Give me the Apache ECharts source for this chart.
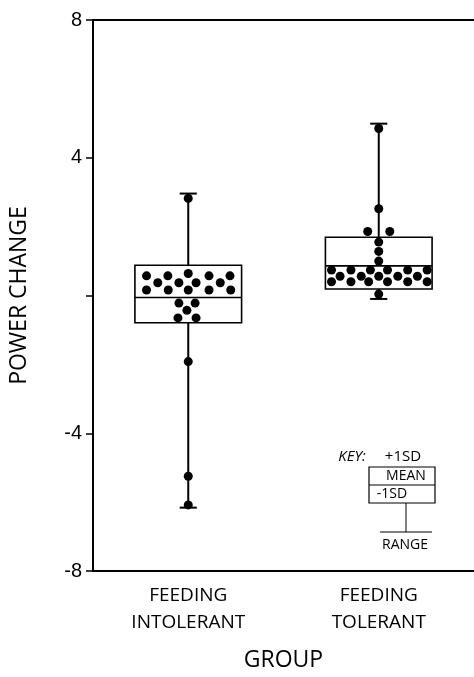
<!DOCTYPE html>
<html>
<head>
<meta charset="utf-8">
<script src="https://cdn.jsdelivr.net/npm/echarts@6/dist/echarts.min.js"></script>
<style>
html,body{margin:0;padding:0;background:#fff;}
#chart{width:474px;height:677px;}
</style>
</head>
<body>
<div id="chart"></div>
<script>
// ---- data ----
const categories = ['FEEDING\nINTOLERANT', 'FEEDING\nTOLERANT'];
const yTicks = [-8, -4, 0, 4, 8];
const rangeLow  = [-6.16, -0.10];
const sdLow     = [-0.79, 0.19];
const means     = [-0.06, 0.86];
const sdHigh    = [0.88, 1.69];
const rangeHigh = [2.96, 4.99];

// individual subjects: value and horizontal jitter (fraction of category width)
const intolerantValues = [2.82,
  0.57, 0.57, 0.64, 0.57, 0.57,
  0.37, 0.37, 0.37, 0.37,
  0.16, 0.16, 0.16, 0.16, 0.16,
  -0.22, -0.22, -0.43, -0.65, -0.65,
  -1.92, -5.25, -6.08];
const intolerantJitter = [0,
  -0.219, -0.107, 0, 0.109, 0.219,
  -0.160, -0.049, 0.041, 0.168,
  -0.219, -0.105, 0, 0.109, 0.223,
  -0.049, 0.036, -0.007, -0.054, 0.041,
  0, 0, 0];
const tolerantValues = [4.85, 2.52, 1.86, 1.86, 1.55, 1.28, 1.00,
  0.74, 0.74, 0.74, 0.74, 0.74, 0.74,
  0.56, 0.56, 0.56, 0.56, 0.56,
  0.40, 0.40, 0.40, 0.40, 0.40, 0.40,
  0.04];
const tolerantJitter = [0, 0, -0.058, 0.058, 0, 0, 0,
  -0.248, -0.146, -0.044, 0.046, 0.152, 0.254,
  -0.203, -0.092, 0, 0.100, 0.203,
  -0.248, -0.146, -0.053, 0.046, 0.152, 0.254,
  0];

// ---- build ----
const boxData = categories.map((c, i) => [i, rangeLow[i], sdLow[i], means[i], sdHigh[i], rangeHigh[i]]);
const dots = [];
intolerantValues.forEach((v, i) => dots.push([0.5 + intolerantJitter[i], v]));
tolerantValues.forEach((v, i) => dots.push([1.5 + tolerantJitter[i], v]));

const chart = echarts.init(document.getElementById('chart'), null, {renderer: 'canvas'});
const tickFont = 'Liberation Sans';
const textFont = 'Open Sans';

function keyText(txt, x, y, size, italic) {
  return {type: 'text', x: x, y: y,
    style: {text: txt, font: (italic ? 'italic ' : '') + size + 'px "Open Sans"', fill: '#000',
      textAlign: 'center', textVerticalAlign: 'middle'}};
}

chart.setOption({
  animation: false,
  backgroundColor: '#fff',
  grid: {left: 84, right: -2, top: 20, bottom: 99, containLabel: false},
  xAxis: [{
    type: 'category',
    data: categories,
    position: 'bottom',
    axisLine: {onZero: false, lineStyle: {color: '#000', width: 2}},
    axisTick: {show: false},
    axisLabel: {color: '#000', fontFamily: textFont, fontSize: 19, lineHeight: 27, margin: 11},
    name: 'GROUP',
    nameLocation: 'middle',
    nameGap: 78,
    nameTextStyle: {color: '#000', fontFamily: textFont, fontSize: 23}
  }, {
    type: 'value',
    min: 0, max: 2,
    position: 'top',
    axisLine: {show: true, onZero: false, lineStyle: {color: '#000', width: 2}},
    axisTick: {show: false},
    axisLabel: {show: false},
    splitLine: {show: false}
  }],
  yAxis: {
    type: 'value',
    min: yTicks[0], max: yTicks[yTicks.length - 1], interval: 4,
    axisLine: {show: true, onZero: false, lineStyle: {color: '#000', width: 2}},
    axisTick: {show: true, length: 7, lineStyle: {color: '#000', width: 1.5}},
    splitLine: {show: false},
    axisLabel: {color: '#000', fontFamily: tickFont, fontSize: 20, margin: 11,
      formatter: v => (v === 0 ? '' : String(v))},
    name: 'POWER CHANGE',
    nameLocation: 'middle',
    nameGap: 62,
    nameRotate: 90,
    nameTextStyle: {color: '#000', fontFamily: textFont, fontSize: 23}
  },
  series: [{
    type: 'custom',
    xAxisIndex: 0,
    data: boxData,
    z: 2,
    renderItem: function (params, api) {
      const c = api.value(0);
      const pLow = api.coord([c, api.value(1)]);
      const pQ1 = api.coord([c, api.value(2)]);
      const pMean = api.coord([c, api.value(3)]);
      const pQ3 = api.coord([c, api.value(4)]);
      const pHigh = api.coord([c, api.value(5)]);
      const band = api.size([1, 0])[0];
      const half = band * 0.28;
      const cap = band * 0.045;
      const x = pMean[0];
      const ls = {stroke: '#000', lineWidth: 2};
      return {
        type: 'group',
        children: [
          {type: 'line', shape: {x1: x, y1: pLow[1], x2: x, y2: pHigh[1]}, style: ls},
          {type: 'line', shape: {x1: x - cap, y1: pLow[1], x2: x + cap, y2: pLow[1]}, style: ls},
          {type: 'line', shape: {x1: x - cap, y1: pHigh[1], x2: x + cap, y2: pHigh[1]}, style: ls},
          {type: 'rect', shape: {x: x - half, y: pQ3[1], width: half * 2, height: pQ1[1] - pQ3[1]},
            style: {fill: '#fff', stroke: '#000', lineWidth: 1.6}},
          {type: 'line', shape: {x1: x - half, y1: pMean[1], x2: x + half, y2: pMean[1]},
            style: {stroke: '#000', lineWidth: 1.6}}
        ]
      };
    }
  }, {
    type: 'scatter',
    xAxisIndex: 1,
    data: dots,
    symbol: 'circle',
    symbolSize: 9,
    itemStyle: {color: '#000', opacity: 1},
    z: 5
  }],
  graphic: [
    keyText('KEY:', 352, 457, 15, true),
    keyText('+1SD', 403, 457, 15, false),
    {type: 'rect', shape: {x: 369, y: 467, width: 66, height: 36}, style: {fill: 'none', stroke: '#000', lineWidth: 1.2}},
    {type: 'line', shape: {x1: 369, y1: 485, x2: 435, y2: 485}, style: {stroke: '#000', lineWidth: 1.2}},
    keyText('MEAN', 406, 476.5, 14, false),
    keyText('-1SD', 392, 494.5, 14, false),
    {type: 'line', shape: {x1: 406, y1: 503, x2: 406, y2: 532}, style: {stroke: '#000', lineWidth: 1}},
    {type: 'line', shape: {x1: 380, y1: 532, x2: 432, y2: 532}, style: {stroke: '#000', lineWidth: 1}},
    keyText('RANGE', 405, 545, 14, false)
  ]
});
</script>
</body>
</html>
